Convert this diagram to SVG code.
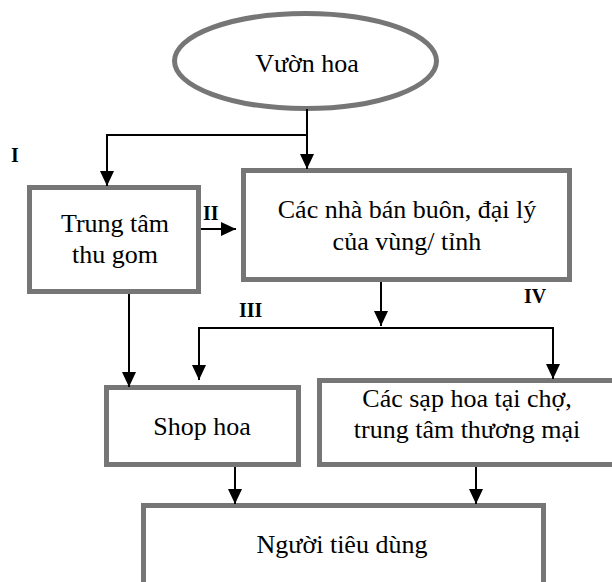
<svg xmlns="http://www.w3.org/2000/svg" width="612" height="582" viewBox="0 0 612 582">
<style>
.box{fill:#fff;stroke:#767676;stroke-width:5}
.t{font-family:"Liberation Serif","Times New Roman",serif;font-size:26px;fill:#000;text-anchor:middle}
.lbl{font-family:"Liberation Serif","Times New Roman",serif;font-size:20px;font-weight:bold;fill:#000}
.c{stroke:#000;stroke-width:2;fill:none}
</style>
<defs>
<marker id="ah" markerUnits="userSpaceOnUse" markerWidth="16" markerHeight="16" refX="15" refY="7" orient="auto">
<path d="M0,0 L15,7 L0,14 z" fill="#000"/>
</marker>
</defs>
<rect width="612" height="582" fill="#fff"/>
<g id="vuon-hoa">
<ellipse class="box" cx="305.5" cy="61" rx="131" ry="47.5"/>
<text class="t" x="307" y="72">Vườn hoa</text>
</g>
<g id="trung-tam">
<rect class="box" x="29.5" y="187.5" width="169" height="104"/>
<text class="t" x="115" y="232">Trung tâm</text>
<text class="t" x="115" y="263">thu gom</text>
</g>
<g id="nha-ban-buon">
<rect class="box" x="243.5" y="170.5" width="326" height="109"/>
<text class="t" x="407" y="218">Các nhà bán buôn, đại lý</text>
<text class="t" x="407" y="250">của vùng/ tỉnh</text>
</g>
<g id="shop-hoa">
<rect class="box" x="106.5" y="387.5" width="192" height="77"/>
<text class="t" x="202" y="435">Shop hoa</text>
</g>
<g id="sap-hoa">
<rect class="box" x="319.5" y="380.5" width="320" height="84"/>
<text class="t" x="467" y="407">Các sạp hoa tại chợ,</text>
<text class="t" x="467" y="438">trung tâm thương mại</text>
</g>
<g id="nguoi-tieu-dung">
<rect class="box" x="143.5" y="505.5" width="400" height="100"/>
<text class="t" x="342" y="553">Người tiêu dùng</text>
</g>
<g id="connectors">
<line class="c" x1="307" y1="109" x2="307" y2="169" marker-end="url(#ah)"/>
<polyline class="c" points="307,135 107,135 107,186" marker-end="url(#ah)"/>
<line class="c" x1="201" y1="229" x2="236" y2="229" marker-end="url(#ah)"/>
<line class="c" x1="381" y1="282" x2="381" y2="326" marker-end="url(#ah)"/>
<line class="c" x1="198" y1="328" x2="554" y2="328"/>
<line class="c" x1="199" y1="328" x2="199" y2="380" marker-end="url(#ah)"/>
<line class="c" x1="553" y1="328" x2="553" y2="379" marker-end="url(#ah)"/>
<line class="c" x1="129" y1="294" x2="129" y2="387" marker-end="url(#ah)"/>
<line class="c" x1="235" y1="467" x2="235" y2="504" marker-end="url(#ah)"/>
<line class="c" x1="476" y1="467" x2="476" y2="504" marker-end="url(#ah)"/>
</g>
<g id="labels">
<text class="lbl" x="11" y="162">I</text>
<text class="lbl" x="203" y="220">II</text>
<text class="lbl" x="239" y="317">III</text>
<text class="lbl" x="524" y="303">IV</text>
</g>
</svg>
